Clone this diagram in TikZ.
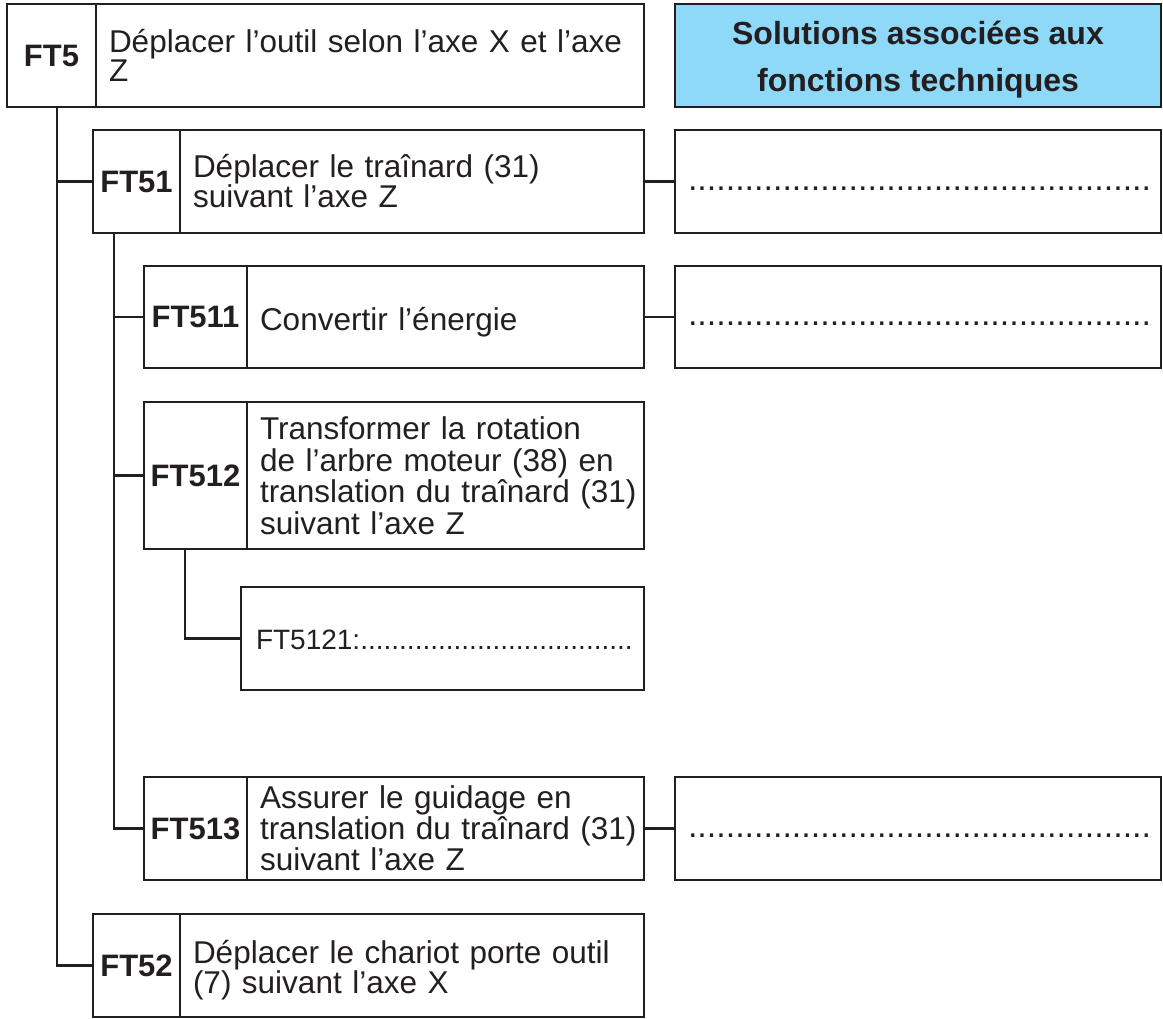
\documentclass[tikz,border=0pt]{standalone}
\usepackage{fontspec}
\setmainfont{Liberation Sans}
\definecolor{ink}{HTML}{231F20}
\definecolor{headfill}{HTML}{8ED8F8}
% invisible strut that lowers a single text block inside its cell
\newcommand\lowerstrut[1]{\rule{0pt}{#1}}
\begin{document}
\begin{tikzpicture}[x=1pt,y=-1pt,
  every node/.style={text=ink},
  cell/.style={draw=ink, line width=2.6pt, anchor=north west, inner sep=0pt, outer sep=0pt},
  code/.style={cell, font=\fontsize{31}{29}\selectfont\bfseries, align=center},
  desc/.style={cell, font=\fontsize{31.5}{30}\selectfont, align=left, inner xsep=13pt},
  sol/.style={cell, font=\fontsize{34}{34}\selectfont, align=left, inner xsep=13pt,
    minimum width=486pt, text width=460pt, text height=22pt, text depth=4pt},
  link/.style={draw=ink, line width=2.6pt}
]
\useasboundingbox (0,0) rectangle (1163,1019);

% level 1: FT5 and the column header
\node[code, minimum width=89pt, minimum height=103pt] (ft5c) at (7,4) {FT5};
\node[desc, minimum height=103pt, text width=522pt,
  font=\fontsize{31.5}{28.5}\selectfont] (ft5d) at (96,4)
  {\mbox{Déplacer l’outil selon l’axe X et l’axe}\\Z};
\node[cell, fill=headfill, minimum width=486pt, minimum height=103pt,
  font=\fontsize{32}{47}\selectfont\bfseries, align=center] (head) at (675,4)
  {\lowerstrut{31pt}Solutions associées aux\\fonctions techniques};

% level 2: FT51
\node[code, minimum width=87pt, minimum height=103pt] (ft51c) at (93,130) {FT51};
\node[desc, minimum height=103pt, text width=438pt] (ft51d) at (180,130)
  {Déplacer le traînard (31)\\suivant l’axe Z};
\node[sol, minimum height=103pt] (sol51) at (675,130)
  {.................................................};

% level 3: FT511
\node[code, minimum width=103pt, minimum height=102pt] (ft511c) at (144,266) {FT511};
\node[desc, minimum height=102pt, text width=371pt] (ft511d) at (247,266)
  {\lowerstrut{33pt}Convertir l’énergie};
\node[sol, minimum height=102pt] (sol511) at (675,266)
  {.................................................};

% level 3: FT512
\node[code, minimum width=103pt, minimum height=147pt] (ft512c) at (144,402) {FT512};
\node[desc, minimum height=147pt, text width=371pt,
  font=\fontsize{31.5}{31.5}\selectfont] (ft512d) at (247,402)
  {\mbox{Transformer la rotation}\\\mbox{de l’arbre moteur (38) en}\\
   \mbox{translation du traînard (31)}\\suivant l’axe Z};

% level 4: FT5121
\node[cell, minimum width=403pt, minimum height=103pt, inner xsep=15pt,
  text width=373pt, align=left, text height=24pt, text depth=3pt,
  font=\fontsize{28}{28}\selectfont] (ft5121) at (241,587)
  {FT5121:...................................};

% level 3: FT513
\node[code, minimum width=103pt, minimum height=103pt] (ft513c) at (144,777) {FT513};
\node[desc, minimum height=103pt, text width=371pt,
  font=\fontsize{31.5}{31}\selectfont] (ft513d) at (247,777)
  {\mbox{Assurer le guidage en}\\\mbox{translation du traînard (31)}\\suivant l’axe Z};
\node[sol, minimum height=103pt] (sol513) at (675,777)
  {.................................................};

% level 2: FT52
\node[code, minimum width=87pt, minimum height=103pt] (ft52c) at (93,914) {FT52};
\node[desc, minimum height=103pt, text width=438pt,
  font=\fontsize{31.5}{29}\selectfont] (ft52d) at (180,914)
  {\lowerstrut{33pt}\mbox{Déplacer le chariot porte outil}\\(7) suivant l’axe X};

% tree connectors
\coordinate (t0) at (57,107);
\coordinate (t1) at (114,233);
\coordinate (t2) at (185,549);
\draw[link] (t0) |- (ft52c.west);
\draw[link] (t0 |- ft51c.west) -- (ft51c.west);
\draw[link] (t1) |- (ft513c.west);
\draw[link] (t1 |- ft511c.west) -- (ft511c.west);
\draw[link] (t1 |- ft512c.west) -- (ft512c.west);
\draw[link] (t2) |- (ft5121.west);

% links to the solution boxes
\draw[link] (ft51d.east) -- (sol51.west);
\draw[link] (ft511d.east) -- (sol511.west);
\draw[link] (ft513d.east) -- (sol513.west);
\end{tikzpicture}
\end{document}
